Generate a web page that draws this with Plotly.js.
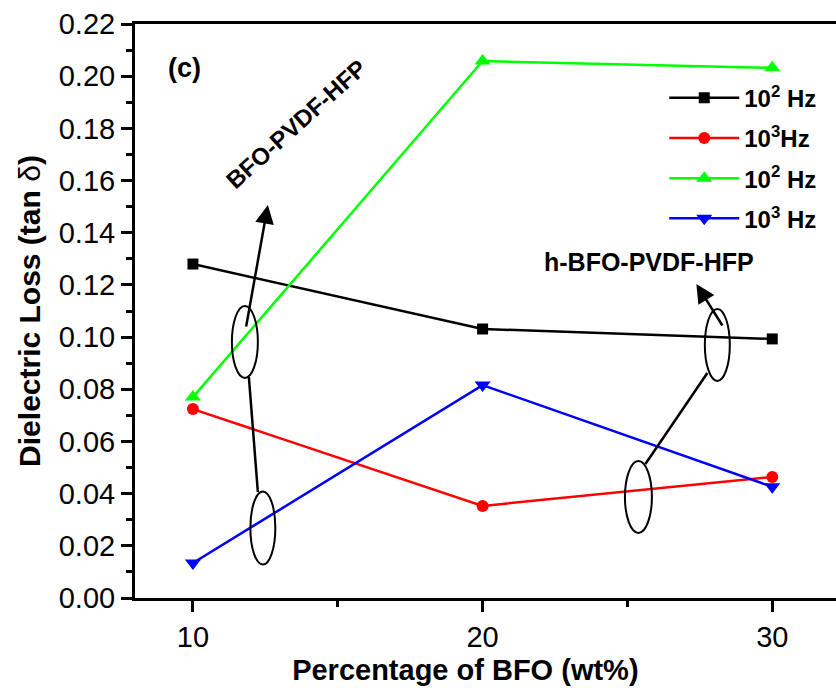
<!DOCTYPE html>
<html><head><meta charset="utf-8">
<script src="https://cdn.plot.ly/plotly-3.0.1.min.js"></script>
<style>html,body{margin:0;padding:0;background:#fff}</style>
</head><body>
<div id="chart" style="width:836px;height:688px"></div>
<script>
const bfoPercent = [10, 20, 30];
const loss1e2Composite = [0.128, 0.1031, 0.0993];
const loss1e3Composite = [0.0724, 0.0353, 0.0464];
const loss1e2Hybrid = [0.077, 0.2058, 0.2032];
const loss1e3Hybrid = [0.0134, 0.0816, 0.0426];
const seriesNames = ['10<sup>2</sup> Hz', '10<sup>3</sup>Hz', '10<sup>2</sup> Hz', '10<sup>3</sup> Hz'];

const FONT = 'Arial, "Liberation Sans", sans-serif';
// pixel -> data helpers for annotation decorations
const px2x = p => 10 + (p - 192) / 29;
const px2y = p => (598 - p) * 0.02 / 52.18;

function tr(y, name, color, symbol, size, grp) {
  return {x: bfoPercent, y: y, name: '<b>' + name + '</b>', type: 'scatter', mode: 'lines+markers',
    legendgroup: grp,
    line: {color: color, width: 2.5}, marker: {color: color, symbol: symbol, size: size}};
}
const data = [
  tr(loss1e2Composite, seriesNames[0], '#000000', 'square', 11, 'a'),
  tr(loss1e3Composite, seriesNames[1], '#ff0000', 'circle', 12, 'b'),
  tr(loss1e2Hybrid, seriesNames[2], '#00ff00', 'triangle-up', 14, 'c'),
  tr(loss1e3Hybrid, seriesNames[3], '#0000ff', 'triangle-down', 14, 'd')
];

function ellipse(cx, cy, w, h) {
  return {type: 'circle', xref: 'x', yref: 'y',
    x0: px2x(cx - w / 2), x1: px2x(cx + w / 2), y0: px2y(cy + h / 2), y1: px2y(cy - h / 2),
    line: {color: '#000', width: 2}};
}
function seg(x0, y0, x1, y1) {
  return {type: 'line', xref: 'x', yref: 'y', x0: px2x(x0), y0: px2y(y0), x1: px2x(x1), y1: px2y(y1),
    line: {color: '#000', width: 2.5}};
}
const shapes = [
  ellipse(244, 342, 26, 72), ellipse(262, 528, 25, 73), seg(248, 377, 257, 492),
  ellipse(717, 345, 25, 72), ellipse(638, 497, 27, 72), seg(707, 373, 645, 464)
];
function arrow(x0, y0, x1, y1) {
  return {x: px2x(x1), y: px2y(y1), ax: px2x(x0), ay: px2y(y0), xref: 'x', yref: 'y',
    axref: 'x', ayref: 'y', showarrow: true, arrowhead: 2, arrowsize: 1.5, arrowwidth: 2.5,
    arrowcolor: '#000', text: ''};
}
const annotations = [
  {text: '<b>(c)</b>', x: px2x(184), y: px2y(68), xref: 'x', yref: 'y', showarrow: false,
    font: {family: FONT, size: 27, color: '#000'}},
  {text: '<b>BFO-PVDF-HFP</b>', x: px2x(296), y: px2y(124), xref: 'x', yref: 'y', showarrow: false,
    textangle: -42, font: {family: FONT, size: 24, color: '#000'}},
  {text: '<b>h-BFO-PVDF-HFP</b>', x: px2x(649), y: px2y(262), xref: 'x', yref: 'y', showarrow: false,
    font: {family: FONT, size: 25, color: '#000'}},
  arrow(245, 328, 267, 205),
  arrow(723, 327, 696, 284)
];

const layout = {
  width: 836, height: 688,
  margin: {l: 135, r: 0, t: 24, b: 90},
  paper_bgcolor: '#fff', plot_bgcolor: '#fff',
  font: {family: FONT, color: '#000'},
  showlegend: true,
  legend: {x: 0.755, y: 0.91, xanchor: 'left', yanchor: 'top', bgcolor: 'rgba(0,0,0,0)',
    traceorder: 'grouped', tracegroupgap: 6,
    font: {family: FONT, size: 24, color: '#000'}, itemwidth: 70},
  xaxis: {range: [8, 32.2], tickvals: [10, 20, 30], ticktext: ['10', '20', '30'],
    showgrid: false, zeroline: false, showline: true, linecolor: '#000', linewidth: 3,
    mirror: true, ticks: 'outside', ticklen: 11, tickwidth: 3, tickcolor: '#000',
    tickfont: {family: FONT, size: 29, color: '#000'},
    minor: {tickvals: [15, 25], ticks: 'outside', ticklen: 6, tickwidth: 3, tickcolor: '#000'},
    title: {text: '<b>Percentage of BFO (wt%)</b>&nbsp;&nbsp;&nbsp;&nbsp;&nbsp;', font: {family: FONT, size: 29, color: '#000'}, standoff: 8}},
  yaxis: {range: [0, 0.22], dtick: 0.02, tick0: 0, tickformat: '.2f',
    showgrid: false, zeroline: false, showline: true, linecolor: '#000', linewidth: 3,
    ticks: 'outside', ticklen: 11, tickwidth: 3, tickcolor: '#000',
    tickfont: {family: FONT, size: 29, color: '#000'},
    minor: {dtick: 0.01, ticks: 'outside', ticklen: 6, tickwidth: 3, tickcolor: '#000'},
    title: {text: '<b>Dielectric Loss (tan </b>δ<b>)</b>', font: {family: FONT, size: 30, color: '#000'}, standoff: 10}},
  shapes: shapes,
  annotations: annotations
};
Plotly.newPlot('chart', data, layout, {displayModeBar: false});
</script>
</body></html>
